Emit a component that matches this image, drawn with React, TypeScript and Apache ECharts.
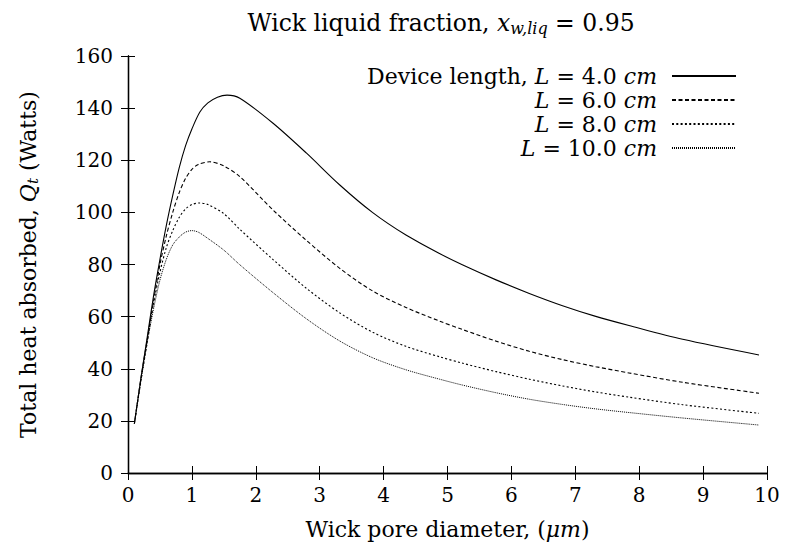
import React, { useEffect, useRef } from "react";
import * as echarts from "echarts";

const xTicks = [0, 1, 2, 3, 4, 5, 6, 7, 8, 9, 10];
const yTicks = [0, 20, 40, 60, 80, 100, 120, 140, 160];

const seriesNames = [
  "Device length, {i|L} = 4.0 {i|cm}",
  "{i|L} = 6.0 {i|cm}",
  "{i|L} = 8.0 {i|cm}",
  "{i|L} = 10.0 {i|cm}",
];

const L4: [number, number][] = [
  [0.1, 19], [0.2, 36], [0.3, 52], [0.4, 68], [0.5, 82], [0.6, 95], [0.7, 106.5],
  [0.8, 117], [0.9, 125.5], [1.0, 132], [1.125, 138.5], [1.25, 142], [1.4, 144.2],
  [1.55, 145], [1.75, 143.8], [2.27, 134.2], [2.79, 122.8], [3.31, 110.6],
  [3.83, 99.9], [4.35, 91.3], [4.875, 84.2], [5.24, 79.8], [5.76, 74.1], [6.28, 68.9],
  [6.8, 64.2], [7.32, 60.1], [7.84, 56.6], [8.68, 51.3], [9.875, 45.3],
];
const L6: [number, number][] = [
  [0.1, 19], [0.2, 36], [0.3, 51], [0.4, 66], [0.5, 80], [0.6, 91], [0.7, 100],
  [0.8, 107.5], [0.9, 113], [1.0, 116.5], [1.1, 118.4], [1.28, 119.4], [1.5, 117.8],
  [1.75, 113.7], [2.27, 100.9], [2.79, 89.3], [3.31, 78.6], [3.83, 69.8],
  [4.35, 63.5], [4.875, 58.3], [5.24, 55], [5.76, 50.6], [6.28, 46.7], [6.8, 43.5],
  [7.32, 40.8], [7.84, 38.4], [8.68, 34.8], [9.875, 30.6],
];
const L8: [number, number][] = [
  [0.1, 19], [0.2, 35], [0.3, 50], [0.4, 65], [0.5, 77], [0.6, 86.5], [0.7, 93],
  [0.8, 98], [0.9, 101.3], [1.0, 103], [1.12, 103.6], [1.25, 103], [1.5, 99.5],
  [1.75, 93.5], [2.27, 81.9], [2.79, 70.9], [3.31, 61.5], [3.83, 54], [4.35, 48.6],
  [4.875, 44.6], [5.24, 42.1], [5.76, 38.9], [6.28, 36], [6.8, 33.4], [7.32, 31.1],
  [7.84, 29.1], [8.68, 26.2], [9.875, 22.9],
];
const L10: [number, number][] = [
  [0.1, 19], [0.2, 35], [0.3, 50], [0.4, 63], [0.5, 74], [0.6, 82], [0.7, 87.5],
  [0.8, 90.5], [0.9, 92.4], [1.0, 93], [1.1, 92.4], [1.25, 90], [1.5, 85.5],
  [1.75, 79.9], [2.27, 69.2], [2.79, 59.2], [3.31, 50.7], [3.83, 44.2], [4.35, 39.6],
  [4.875, 36], [5.24, 33.7], [5.76, 30.8], [6.28, 28.3], [6.8, 26.3], [7.32, 24.6],
  [7.84, 23.2], [8.68, 21.1], [9.875, 18.4],
];

const seriesData = [L4, L6, L8, L10];
const dashTypes: any[] = ["solid", [4, 2.5], [2, 2.3], [1, 1]];
const lineWidths = [1.1, 1.1, 1.1, 1.0];

const FONT = "DejaVu Serif";

export default function App() {
  const ref = useRef<HTMLDivElement>(null);
  useEffect(() => {
    if (!ref.current) return;
    const chart = echarts.init(ref.current, null, { renderer: "svg" });
    const base = { fontFamily: FONT, fontSize: 22, color: "#000" };
    const rich = {
      i: { ...base, fontStyle: "italic" },
      s: { ...base, fontSize: 15, fontStyle: "italic", padding: [9, 0, 0, 0] },
    };
    const tbase = { ...base, fontSize: 23.5 };
    const trich = {
      i: { ...tbase, fontStyle: "italic" },
      s: { ...tbase, fontSize: 16, fontStyle: "italic", padding: [10, 0, 0, 0] },
    };
    const tick = { fontFamily: FONT, fontSize: 20, color: "#000" };
    const axisCommon = {
      min: 0,
      axisLine: { lineStyle: { color: "#000", width: 1.3 } },
      axisTick: { inside: true, length: 7, lineStyle: { color: "#000", width: 1 } },
      splitLine: { show: false },
    };
    const option: any = {
      animation: false,
      backgroundColor: "#fff",
      title: {
        text: "Wick liquid fraction, {i|x}{s|w,liq} = 0.95",
        left: 436,
        top: 5,
        textAlign: "center",
        textStyle: { ...tbase, fontWeight: "normal", rich: trich },
      },
      grid: { left: 128, right: 21, top: 56, bottom: 79 },
      legend: seriesNames.map((n, k) => ({
        data: [n],
        right: 51,
        top: 65 + k * 24,
        align: "right",
        itemWidth: 64,
        itemHeight: 10,
        itemGap: 0,
        padding: 0,
        itemStyle: { opacity: 0 },
        textStyle: { ...base, padding: [0, 10, 0, 0], rich },
        selectedMode: false,
      })),
      xAxis: [
        {
          ...axisCommon,
          type: "value",
          max: 10,
          interval: 1,
          position: "bottom",
          name: "Wick pore diameter, ({i|μm})",
          nameLocation: "middle",
          nameGap: 45,
          nameTextStyle: { ...base, rich },
          axisLabel: {
            ...tick,
            margin: 12,
            formatter: (v: number) => (xTicks.includes(v) ? String(v) : ""),
          },
        },
        {
          ...axisCommon,
          type: "value",
          max: 10,
          interval: 1,
          position: "top",
          axisLabel: { show: false },
        },
      ],
      yAxis: [
        {
          ...axisCommon,
          type: "value",
          max: 160,
          interval: 20,
          position: "left",
          name: "Total heat absorbed, {i|Q}{s|t} (Watts)",
          nameLocation: "middle",
          nameGap: 88,
          nameTextStyle: { ...base, rich },
          axisLabel: {
            ...tick,
            margin: 15,
            formatter: (v: number) => (yTicks.includes(v) ? String(v) : ""),
          },
        },
        {
          ...axisCommon,
          type: "value",
          max: 160,
          interval: 20,
          position: "right",
          axisLabel: { show: false },
        },
      ],
      series: seriesData.map((d, k) => ({
        type: "line",
        name: seriesNames[k],
        data: d,
        smooth: 0.3,
        symbol: "none",
        showSymbol: false,
        lineStyle: { color: "#000", width: lineWidths[k], type: dashTypes[k] },
        itemStyle: { color: "#000" },
      })),
    };
    chart.setOption(option);
    return () => chart.dispose();
  }, []);
  return <div ref={ref} style={{ width: 788, height: 552, margin: -8 }} />;
}
